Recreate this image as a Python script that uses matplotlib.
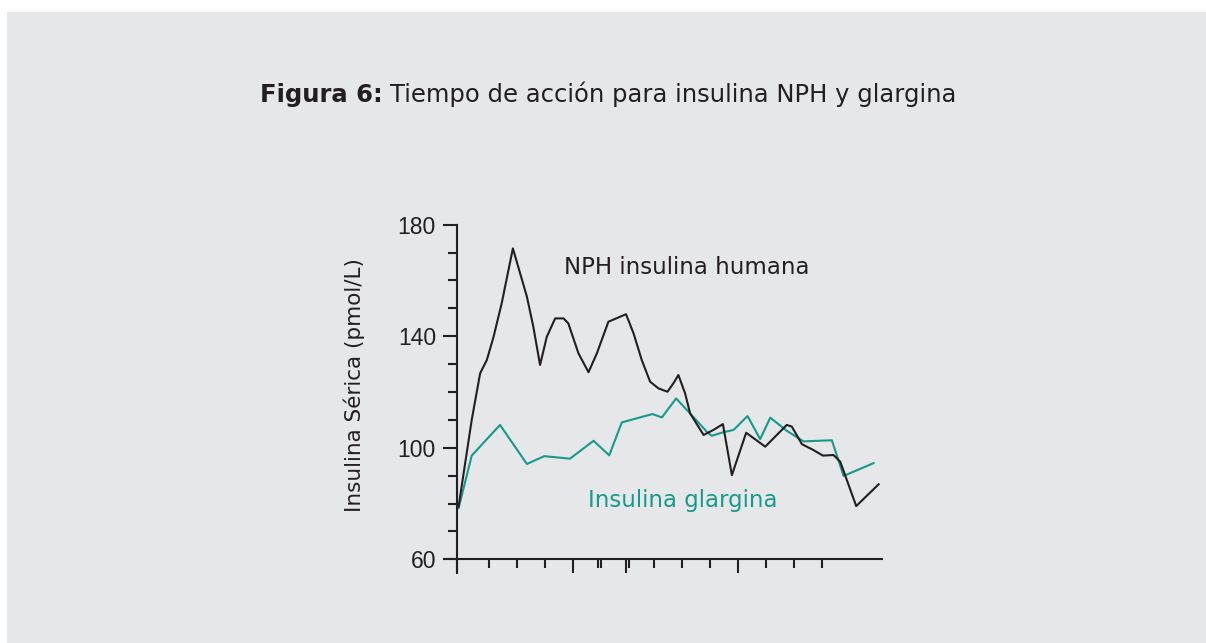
import matplotlib
matplotlib.use("Agg")
import matplotlib.pyplot as plt
from matplotlib.patches import Rectangle

# ---- data (x in time units along the axis, y in pmol/L) ----
nph_x = [0.04, 0.51, 0.81, 1.05, 1.29, 1.58, 1.98, 2.48, 2.71, 2.95, 3.19, 3.49,
         3.79, 3.96, 4.32, 4.68, 4.98, 5.39, 6.02, 6.29, 6.58, 6.88, 7.18, 7.50,
         7.71, 7.89, 8.13, 8.31, 8.79, 9.14, 9.48, 9.80, 10.31, 10.99, 11.76,
         11.94, 12.30, 12.71, 13.05, 13.43, 13.67, 14.24, 15.04]
nph_y = [78.9, 110.0, 126.7, 131.5, 139.8, 151.8, 171.5, 154.2, 143.4, 129.7,
         139.8, 146.4, 146.4, 144.6, 133.9, 127.1, 133.9, 145.2, 147.9, 141.0,
         131.5, 123.7, 121.3, 120.1, 123.1, 126.1, 119.5, 112.3, 104.6, 106.4,
         108.5, 90.2, 105.4, 100.4, 108.2, 107.6, 101.3, 99.2, 97.2, 97.4, 95.0,
         79.1, 86.9]

glar_x = [0.04, 0.51, 1.52, 2.48, 3.10, 4.02, 4.86, 5.42, 5.87, 6.96, 7.30, 7.81,
          8.31, 8.90, 9.08, 9.50, 9.86, 10.36, 10.81, 11.17, 11.76, 12.36, 13.37,
          13.79, 14.86]
glar_y = [78.3, 97.2, 108.2, 94.2, 97.0, 96.1, 102.5, 97.3, 109.1, 112.1, 110.9,
          117.7, 112.3, 105.8, 104.3, 105.6, 106.4, 111.4, 103.1, 110.8, 106.1,
          102.3, 102.7, 89.9, 94.5]

y_major = [60, 100, 140, 180]
y_minor = [70, 80, 90, 110, 120, 130, 150, 160, 170]
x_short_ticks = [1.13, 2.13, 3.13, 5.02, 5.13, 6.13, 7.01, 8.01, 9.01, 11.01, 12.01, 13.01]
x_long_ticks = [0.0, 4.13, 6.02, 10.01]

title_bold = "Figura 6:"
title_rest = "Tiempo de acción para insulina NPH y glargina"
ylabel = "Insulina Sérica (pmol/L)"
label_nph = "NPH insulina humana"
label_glar = "Insulina glargina"

# ---- styling ----
W, H = 1206, 643
BG = "#e6e7e8"
DARK = "#231f20"
TEAL = "#17998e"
TITLE_FONT = ["DejaVu Sans"]
AXIS_FONT = ["Liberation Sans", "DejaVu Sans"]

fig = plt.figure(figsize=(W / 100, H / 100), dpi=100, facecolor="white")
fig.patches.append(Rectangle((7 / W, 0), 1, 1 - 12 / H, transform=fig.transFigure,
                             facecolor=BG, edgecolor="none", zorder=-10))

x0, x1 = 444, 881.7
y_top, y_bot = 224.7, 573
ax = fig.add_axes([x0 / W, 1 - y_bot / H, (x1 - x0) / W, (y_bot - y_top) / H])
ax.set_facecolor("none")
ax.set_xlim(-0.48, 15.15)
ax.set_ylim(55.1, 180)

for s in ["top", "right"]:
    ax.spines[s].set_visible(False)
ax.spines["left"].set_position(("data", 0))
ax.spines["bottom"].set_position(("data", 60))
for s in ["left", "bottom"]:
    ax.spines[s].set_linewidth(1.5)
    ax.spines[s].set_color(DARK)

ax.set_yticks(y_major)
ax.set_yticks(y_minor, minor=True)
ax.set_yticklabels([str(v) for v in y_major], family=AXIS_FONT, fontsize=16.5, color=DARK)
ax.tick_params(axis="y", which="major", direction="out", length=10, width=1.5,
               color=DARK, pad=5.5)
ax.tick_params(axis="y", which="minor", direction="out", length=6.3, width=1.5, color=DARK)

ax.set_xticks(x_long_ticks)
ax.set_xticks(x_short_ticks, minor=True)
ax.set_xticklabels([])
ax.tick_params(axis="x", which="major", direction="out", length=10, width=1.5, color=DARK)
ax.tick_params(axis="x", which="minor", direction="out", length=6.5, width=1.5, color=DARK)

ax.plot(nph_x, nph_y, color=DARK, lw=1.5, solid_joinstyle="round", zorder=3)
ax.plot(glar_x, glar_y, color=TEAL, lw=1.5, solid_joinstyle="round", zorder=2)

fig.text(354 / W, 1 - 385 / H, ylabel, rotation=90, ha="center", va="center",
         family=["DejaVu Sans"], fontsize=15.5, color=DARK)

fig.text(687 / W, 1 - 268 / H, label_nph, ha="center", va="center",
         family=TITLE_FONT, fontsize=16.5, color=DARK)
fig.text(682.5 / W, 1 - 500 / H, label_glar, ha="center", va="center",
         family=TITLE_FONT, fontsize=16.5, color=TEAL)

# title: bold part + regular part
t1 = fig.text(260 / W, 1 - 102 / H, title_bold, ha="left", va="baseline",
              family=TITLE_FONT, fontsize=17.5, fontweight="bold", color=DARK)
fig.canvas.draw()
bb = t1.get_window_extent()
fig.text((bb.x1 + 7) / W, 1 - 102 / H, title_rest, ha="left", va="baseline",
         family=TITLE_FONT, fontsize=17.5, color=DARK)

fig.savefig("out.png", dpi=100, facecolor=fig.get_facecolor())
